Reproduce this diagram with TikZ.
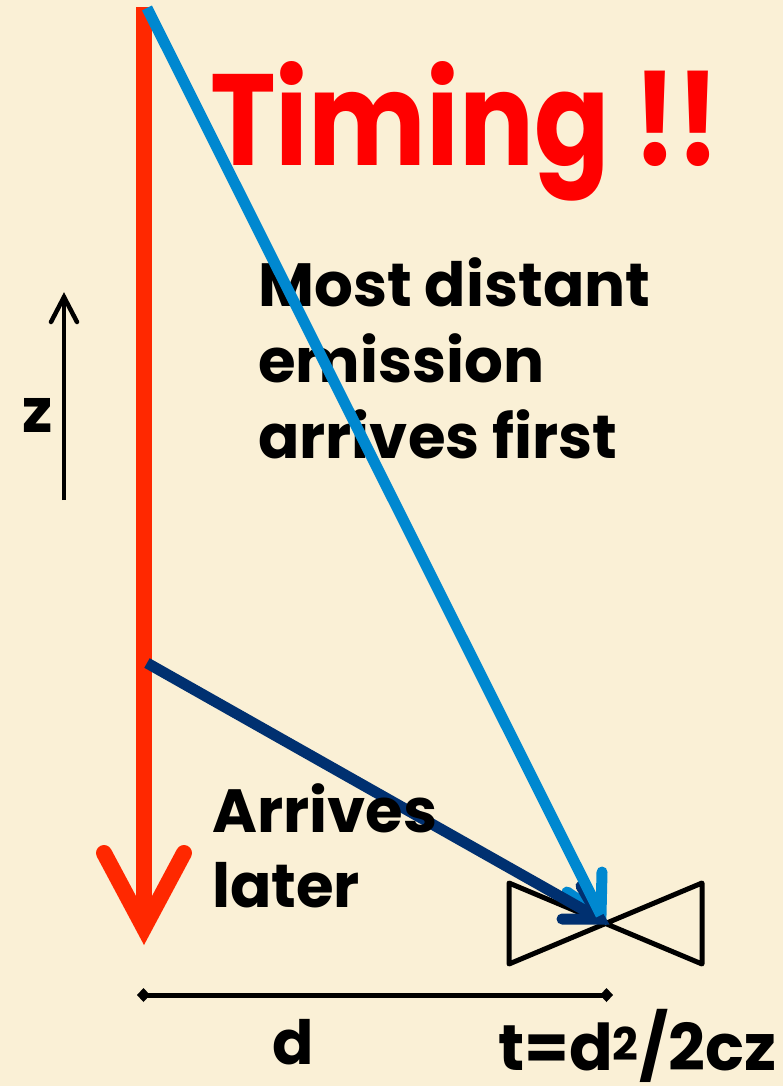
\documentclass[tikz,border=0pt]{standalone}
\usepackage{fontspec}
\setmainfont{Poppins}
\usetikzlibrary{arrows.meta}
\definecolor{bgcream}{RGB}{250,240,214}
\definecolor{zred}{RGB}{255,40,0}
\definecolor{tred}{RGB}{255,0,0}
\definecolor{ltblue}{RGB}{0,136,208}
\definecolor{navyblue}{RGB}{0,48,112}
\begin{document}
\begin{tikzpicture}[x=1pt,y=-1pt,
  redline/.style={zred,line width=16pt},
  lbline/.style={ltblue,line width=11pt},
  nvline/.style={navyblue,line width=11pt},
  barb/.style={line cap=round,line join=miter,miter limit=10},
  blk/.style={font=\bfseries\fontsize{61}{61}\selectfont,anchor=base west,inner sep=0pt,text=black},
  thin/.style={black,line width=5pt}]
\fill[bgcream] (0,0) rectangle (783,1086);
\useasboundingbox (0,0) rectangle (783,1086);
% title
\node[anchor=base west,inner sep=0pt,text=tred,font=\bfseries] (title) at (210,166)
  {\resizebox{510pt}{104pt}{Timing !!}};
% upper text
\node[blk] (t1) at (258,306) {Most distant};
\node[blk] (t2) at (258,382) {emission};
\node[blk] (t3) at (258,458) {arrives first};
% bowtie
\coordinate (b1) at (509,883);
\coordinate (b2) at (702,964);
\coordinate (b3) at (702,883);
\coordinate (b4) at (509,964);
\draw[thin,line join=round] (b1) -- (b2) -- (b3) -- (b4) -- cycle;
% red arrow
\coordinate (rtop) at (144,7);
\coordinate (rtip) at (144,928);
\coordinate (rwl) at (104,853);
\coordinate (rwr) at (184,853);
\draw[redline] (rtop) -- (rtip);
\draw[redline,barb] (rwl) -- (rtip) -- (rwr);
% light blue arrow
\coordinate (lbs) at (147,8);
\coordinate (lbt) at (601,915);
\coordinate (lbw1) at (567,892);
\coordinate (lbw2) at (602,872);
\draw[lbline,barb] (lbw1) -- (lbt) -- (lbw2);
% navy arrow
\coordinate (nvs) at (147,663);
\coordinate (nvt) at (600,919);
\coordinate (nvw1) at (562,919);
\coordinate (nvw2) at (581,886);
\draw[nvline] (nvs) -- (nvt);
\draw[nvline,barb] (nvw1) -- (nvt) -- (nvw2);
\draw[lbline] (lbs) -- (lbt);
% lower text
\node[blk] (a1) at (212,832) {Arrives};
\node[blk] (a2) at (212,907) {later};
% z axis
\coordinate (zb) at (64,500);
\coordinate (zt) at (64,297);
\coordinate (zw1) at (51,322);
\coordinate (zw2) at (77,322);
\draw[black,line width=4.5pt] (zb) -- (zt);
\draw[black,line width=4.5pt,barb] (zw1) -- (zt) -- (zw2);
\node[blk,anchor=base] (zl) at (38,432) {z};
% distance
\coordinate (dl) at (137,995);
\coordinate (dr) at (613,995);
\draw[thin,{Diamond[length=13pt,width=14pt]}-{Diamond[length=13pt,width=14pt]}] (dl) -- (dr);
\node[blk,anchor=base] (dlab) at (293,1064) {d};
\node[anchor=base west,inner sep=0pt,font=\bfseries] (tf) at (498,1070)
  {\resizebox{278pt}{!}{\fontsize{61}{61}\selectfont t=d\textsuperscript{2}/2cz}};
\end{tikzpicture}
\end{document}
